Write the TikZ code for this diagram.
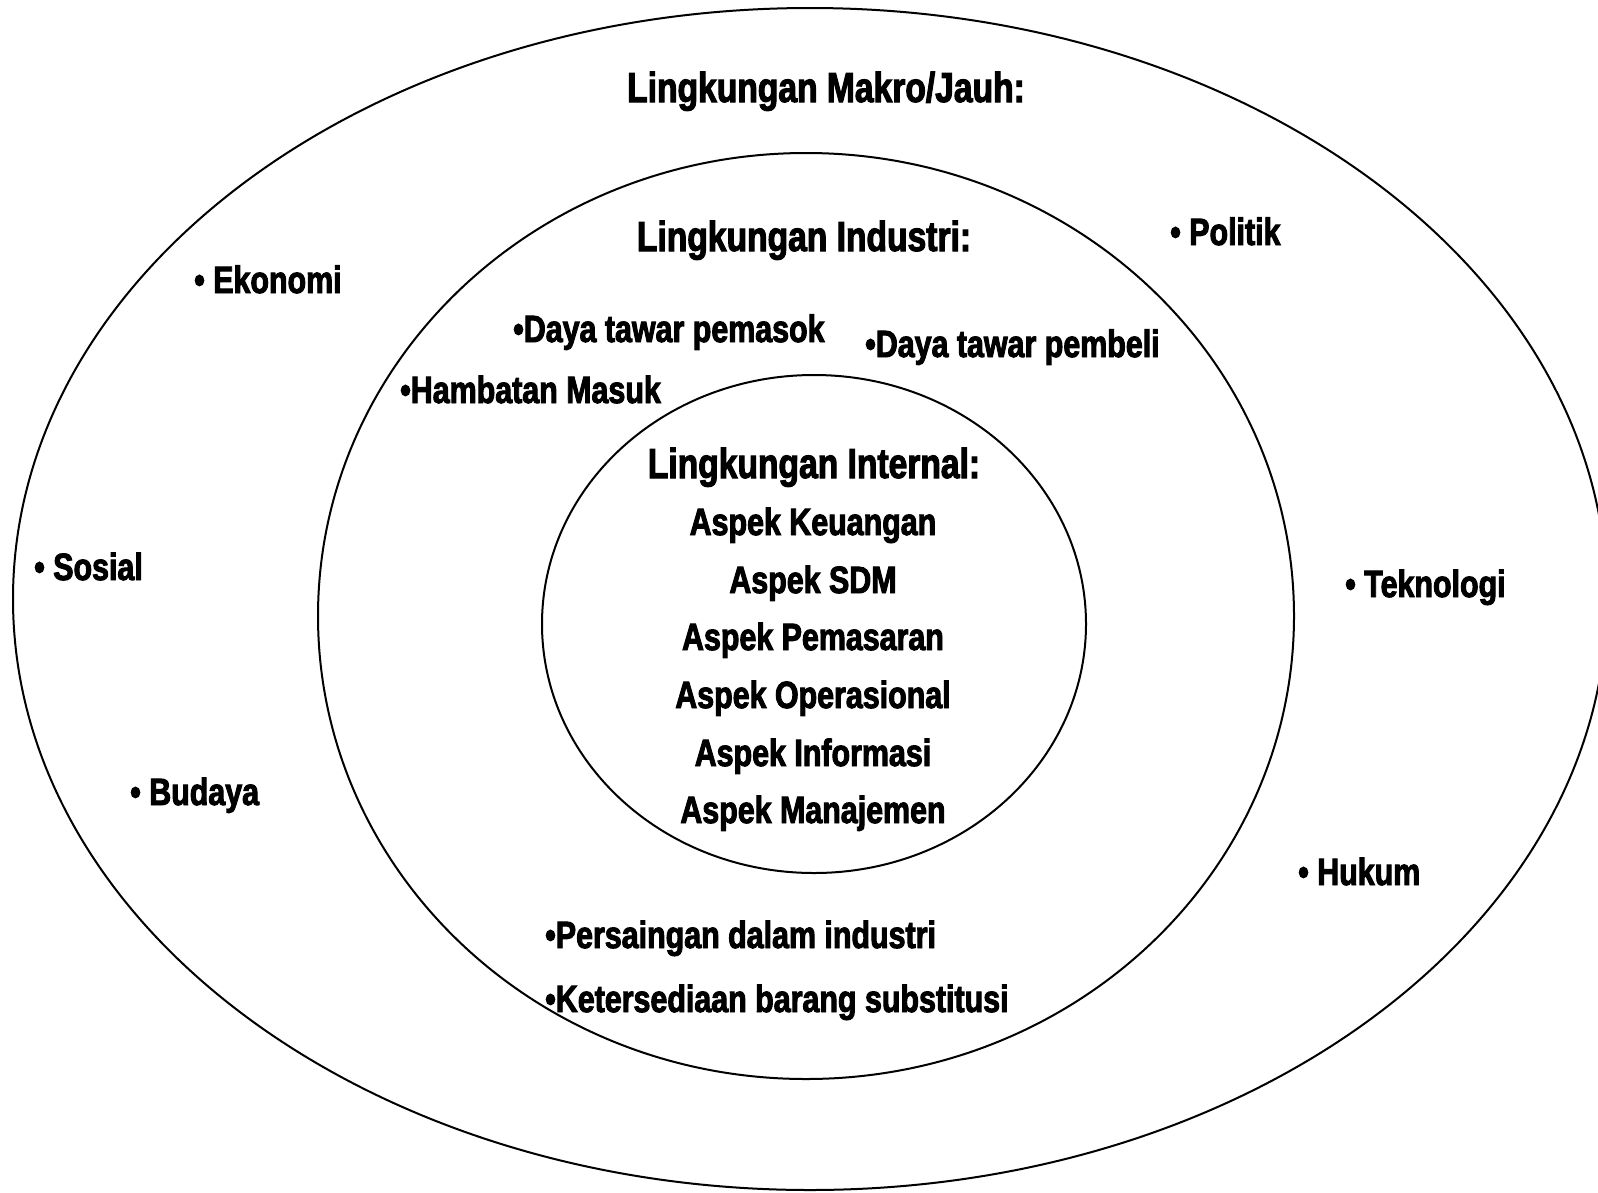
\documentclass[tikz,border=0pt]{standalone}
\usepackage{fontspec}
\setmainfont[FakeStretch=0.8, BoldFeatures={FakeBold=2.5}]{Liberation Sans}
\usetikzlibrary{positioning}

\begin{document}
\begin{tikzpicture}[
  x=1pt, y=-1pt,
  ring/.style={draw, line width=2pt},
  lbl/.style={font=\bfseries\fontsize{38}{42}\selectfont, inner sep=0pt, anchor=base west},
  ttl/.style={lbl, anchor=base},
  head/.style={ttl, font=\bfseries\fontsize{42}{46}\selectfont}
]
\useasboundingbox (0,0) rectangle (1598,1192);

% the three environments
\draw[ring] (810,599) ellipse [x radius=797, y radius=591];
\draw[ring] (806,616) ellipse [x radius=488, y radius=463];
\draw[ring] (814,624) ellipse [x radius=272, y radius=249];

% macro environment
\node[head] (makro) at (826,102) {Lingkungan Makro/Jauh:};
\node[lbl] (politik) at (1170,245) {• Politik};
\node[lbl] (ekonomi) at (194,293) {• Ekonomi};
\node[lbl] (sosial) at (34,580) {• Sosial};
\node[lbl] (teknologi) at (1345,597) {• Teknologi};
\node[lbl] (budaya) at (130,805) {• Budaya};
\node[lbl] (hukum) at (1298,885) {• Hukum};

% industry environment
\node[head] (industri) at (804,251) {Lingkungan Industri:};
\node[lbl] (pemasok) at (513,342) {•Daya tawar pemasok};
\node[lbl] (pembeli) at (865,357) {•Daya tawar pembeli};
\node[lbl] (hambatan) at (400,403) {•Hambatan Masuk};
\node[lbl] (saing) at (545,948) {•Persaingan dalam industri};
\node[lbl] (subst) at (545,1012) {•Ketersediaan barang substitusi};

% internal environment
\node[head] (internal) at (814,478) {Lingkungan Internal:};
\node[ttl] (keu) at (813,535) {Aspek Keuangan};
\node[ttl] (sdm) at (813,593) {Aspek SDM};
\node[ttl] (pasar) at (813,650) {Aspek Pemasaran};
\node[ttl] (ops) at (813,708) {Aspek Operasional};
\node[ttl] (info) at (813,766) {Aspek Informasi};
\node[ttl] (mgmt) at (813,823) {Aspek Manajemen};
\end{tikzpicture}
\end{document}
